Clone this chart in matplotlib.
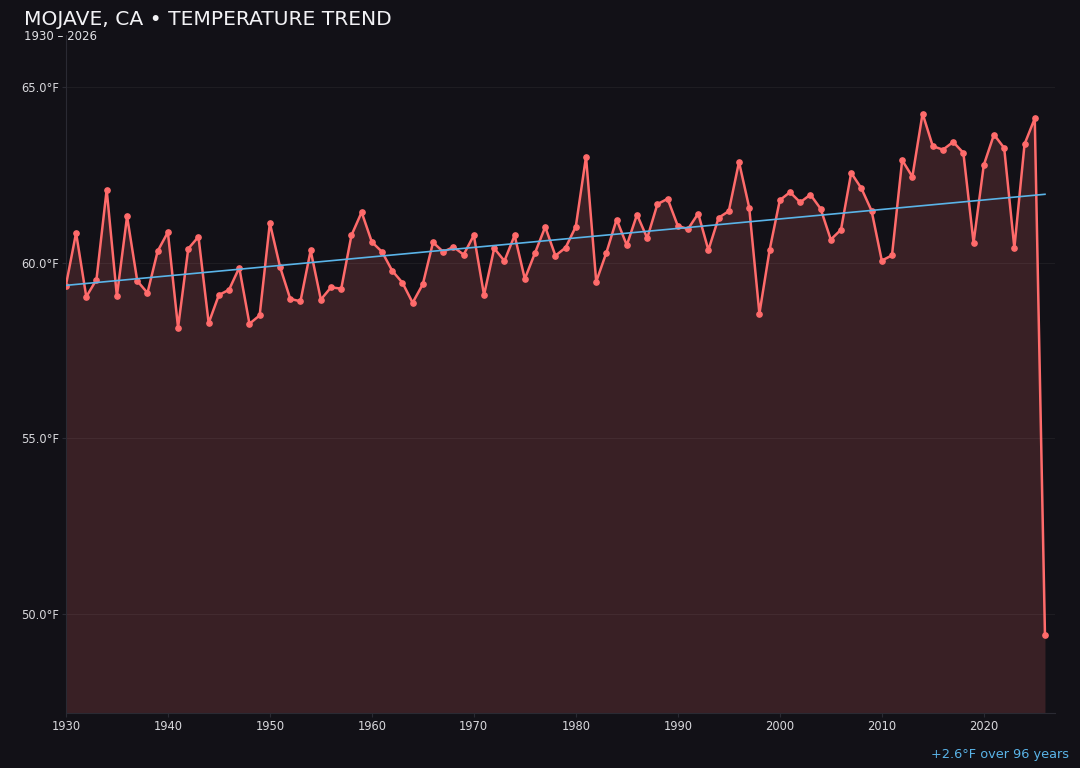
import numpy as np
import matplotlib
matplotlib.use("Agg")
import matplotlib.pyplot as plt
from matplotlib.ticker import FuncFormatter

years = list(range(1930, 2027))
temps = [
    59.35, 60.85, 59.03, 59.52, 62.08, 59.05, 61.32, 59.48, 59.14, 60.33,  # 1930s
    60.87, 58.15, 60.40, 60.74, 58.28, 59.08, 59.23, 59.86, 58.26, 58.50,  # 1940s
    61.13, 59.88, 58.97, 58.90, 60.35, 58.95, 59.30, 59.26, 60.78, 61.44,  # 1950s
    60.59, 60.31, 59.77, 59.43, 58.86, 59.39, 60.58, 60.31, 60.45, 60.23,  # 1960s
    60.78, 59.08, 60.41, 60.05, 60.78, 59.54, 60.28, 61.02, 60.20, 60.43,  # 1970s
    61.03, 63.02, 59.46, 60.29, 61.23, 60.50, 61.37, 60.70, 61.67, 61.82,  # 1980s
    61.05, 60.96, 61.40, 60.36, 61.28, 61.47, 62.87, 61.57, 58.55, 60.36,  # 1990s
    61.78, 62.01, 61.72, 61.94, 61.54, 60.66, 60.94, 62.56, 62.12, 61.48,  # 2000s
    60.06, 60.21, 62.92, 62.45, 64.25, 63.32, 63.22, 63.44, 63.13, 60.57,  # 2010s
    62.78, 63.65, 63.27, 60.42, 63.38, 64.11, 49.40,                       # 2020s
]
title = "MOJAVE, CA \u2022 TEMPERATURE TREND"
subtitle = "1930 \u2013 2026"

bg = "#121117"
red = "#ff6b6b"
blue = "#5ab4e8"

yrs = np.array(years)
t = np.array(temps)

fig = plt.figure(figsize=(10.8, 7.68), dpi=100, facecolor=bg)
ax = fig.add_axes([0.061, 0.0716, 0.916, 0.8824])
ax.set_facecolor(bg)

span = t.max() - t.min()
ymin = t.min() - 0.15 * span
ymax = t.max() + 0.15 * span
ax.set_ylim(ymin, ymax)
ax.set_xlim(1930, 2027)

ax.fill_between(yrs, t, ymin, color=red, alpha=0.17, linewidth=0)
ax.plot(yrs, t, color=red, lw=1.8, marker="o", ms=3.8, zorder=3)

# linear trend
slope, icpt = np.polyfit(yrs, t, 1)
ax.plot(yrs, slope * yrs + icpt, color=blue, lw=1.2, zorder=4)
change = slope * (yrs[-1] - yrs[0])

ax.set_yticks([50, 55, 60, 65])
ax.yaxis.set_major_formatter(FuncFormatter(lambda v, p: f"{v:.1f}\u00b0F"))
ax.set_xticks(range(1930, 2030, 10))
ax.tick_params(colors="#2a2a33", labelcolor="#d8d8dc", labelsize=8.3, length=3, pad=2)
ax.grid(axis="y", color="#ffffff", alpha=0.05, lw=0.8)
for s in ["top", "right"]:
    ax.spines[s].set_visible(False)
for s in ["left", "bottom"]:
    ax.spines[s].set_color("#2a2a33")

fig.text(0.022, 0.975, title, color="#f2f2f5", fontsize=14.6, va="center")
fig.text(0.022, 0.953, subtitle, color="#e0e0e4", fontsize=8.5, va="center")
fig.text(0.99, 0.017, f"+{change:.1f}\u00b0F over {yrs[-1] - yrs[0]} years",
         color=blue, fontsize=9.3, ha="right", va="center")

fig.savefig("out.png", dpi=100, facecolor=bg)
